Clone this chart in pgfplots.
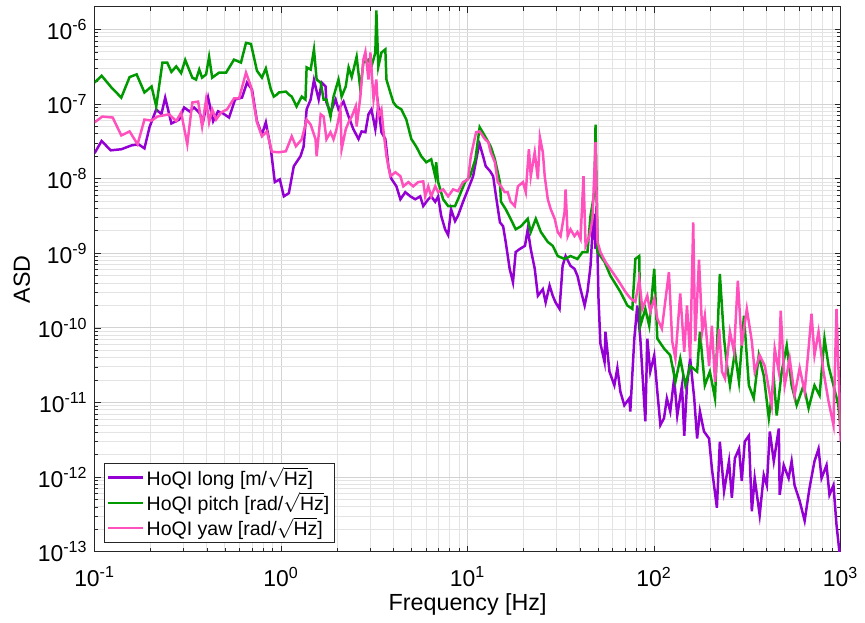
\documentclass[border=0pt]{standalone}
\usepackage{pgfplots}
\pgfplotsset{compat=1.18}
\usepackage{amsmath}
\usepackage{fontspec}
\setmainfont{Liberation Sans}
\definecolor{cLong}{RGB}{148,0,211}
\definecolor{cPitch}{RGB}{0,153,0}
\definecolor{cYaw}{RGB}{255,80,190}
\definecolor{axgray}{RGB}{38,38,38}
\begin{document}
\begin{tikzpicture}
\begin{axis}[
  xmode=log, ymode=log,
  scale only axis, width=374.5pt, height=273.5pt,
  xmin=0.1, xmax=1000, ymin=1e-13, ymax=2e-6,
  xticklabel={10\textsuperscript{\pgfmathparse{int(round(\tick/2.302585093))}\pgfmathresult}},
  yticklabel={10\textsuperscript{\pgfmathparse{int(round(\tick/2.302585093))}\pgfmathresult}},
  ticklabel style={font=\fontsize{11.5}{12}\selectfont},
  xticklabel style={yshift=-4pt},
  label style={font=\fontsize{11.7}{13}\selectfont},
  xlabel={Frequency [Hz]}, ylabel={ASD},
  xlabel style={at={(axis description cs:0.5,0)}, anchor=center, yshift=-26.5pt},
  ylabel style={at={(axis description cs:-0.0975,0.5)}, anchor=center},
  grid=both,
  major grid style={gray!35, line width=0.5pt},
  minor grid style={gray!22, line width=0.5pt},
  tick align=inside, major tick length=3pt, minor tick length=1.8pt,
  every tick/.style={axgray, line width=0.4pt},
  axis line style={axgray, line width=0.5pt},
  legend cell align=left,
  legend style={at={(axis description cs:0,0)}, anchor=south west, xshift=4.5pt, yshift=4.5pt,
    draw=axgray, line width=0.5pt, fill=white, font=\fontsize{9.8}{10}\selectfont, inner sep=1.5pt,
    row sep=1.6pt, nodes={inner ysep=0.2pt, inner xsep=1.2pt}},
  legend image code/.code={\draw[#1, line width=1.2pt] (0pt,0pt) -- (17.5pt,0pt);},
]
\addplot[cLong, line width=1.25pt, no markers] coordinates {
(0.1,2.2e-8) (0.109,3.2e-8) (0.122,2.4e-8) (0.139,2.48e-8) (0.158,2.8e-8) (0.172,2.89e-8) (0.185,2.55e-8) (0.197,4.9e-8) (0.214,8.5e-8) (0.228,7.3e-8) (0.239,1.22e-7) (0.258,5.5e-8) (0.284,6.2e-8) (0.302,9.0e-8) (0.322,8.0e-8) (0.342,9.0e-8) (0.364,7.7e-8) (0.382,5.9e-8) (0.406,1.22e-7) (0.432,5.9e-8) (0.459,8.0e-8) (0.488,7.5e-8) (0.526,6.6e-8) (0.566,1.15e-7) (0.617,1.22e-7) (0.656,1.94e-7) (0.698,1.57e-7) (0.742,5.9e-8) (0.789,3.9e-8) (0.828,5.7e-8) (0.881,2.48e-8) (0.925,9.0e-9) (0.984,9.8e-9) (1.034,5.8e-9) (1.10,6.4e-9) (1.169,1.47e-8) (1.27,2.0e-8) (1.32,2.7e-8) (1.37,8.5e-8) (1.44,1.15e-7) (1.50,2.1e-7) (1.59,1.15e-7) (1.65,1.94e-7) (1.73,1.72e-7) (1.75,1.05e-7) (1.84,7.7e-8) (1.96,1.15e-7) (2.03,8.5e-8) (2.16,1.08e-7) (2.30,6.8e-8) (2.44,4.6e-8) (2.60,3.4e-8) (2.70,4.3e-8) (2.83,4.2e-8) (2.94,7.3e-8) (3.05,8.5e-8) (3.20,4.6e-8) (3.32,9.3e-8) (3.45,4.2e-8) (3.62,3.4e-8) (3.76,1.47e-8) (3.90,1.0e-8) (4.15,7.9e-9) (4.36,5.3e-9) (4.63,6.6e-9) (4.93,5.8e-9) (5.24,5.3e-9) (5.57,5.8e-9) (5.78,4.3e-9) (6.15,5.3e-9) (6.38,5.8e-9) (6.70,4.9e-9) (6.95,5.8e-9) (7.21,3.2e-9) (7.57,2.1e-9) (7.86,1.76e-9) (8.15,3.9e-9) (8.56,2.7e-9) (8.88,3.2e-9) (9.45,4.9e-9) (10.05,7.2e-9) (10.7,1.08e-8) (11.4,2.5e-8) (11.6,2.89e-8) (12.1,2.0e-8) (12.5,1.47e-8) (13.2,1.26e-8) (13.7,1.08e-8) (14.2,5.8e-9) (14.9,2.6e-9) (15.5,2.3e-9) (16.0,1.42e-9) (16.8,6.2e-10) (17.5,4.1e-10) (18.1,1.04e-9) (19.0,1.14e-9) (20.3,1.26e-9) (21.0,2.1e-9) (21.8,1.14e-9) (22.9,6.2e-10) (23.8,2.7e-10) (25.3,3.3e-10) (26.2,2.2e-10) (27.5,3.7e-10) (28.6,2.7e-10) (29.6,2.2e-10) (31.1,1.8e-10) (32.3,6.8e-10) (33.5,9.2e-10) (35.6,6.8e-10) (37.4,6.2e-10) (38.8,5.0e-10) (40.3,3.3e-10) (42.4,2.0e-10) (43.9,3.05e-10) (45.6,6.8e-10) (47.3,3.4e-9) (48.5,1.14e-9) (49.1,4.3e-9) (50.3,2.5e-10) (51.5,6.2e-11) (54.2,3.5e-11) (54.8,8.9e-11) (57.6,2.6e-11) (61.2,1.7e-11) (63.5,2.9e-11) (65.9,1.4e-11) (69.2,9.2e-12) (73.6,1.14e-11) (74.5,7.6e-12) (78.3,7.2e-11) (81.2,2.0e-10) (84.3,7.2e-11) (89.7,5.6e-12) (91.9,7.2e-11) (95.3,2.6e-11) (100.1,4.3e-11) (104,1.4e-11) (108,5.0e-12) (113,6.2e-12) (117,1.14e-11) (122,7.6e-12) (128,2.1e-11) (133,6.7e-12) (141,1.7e-11) (145,3.6e-12) (150,1.7e-11) (156,3.9e-11) (164,1.14e-11) (170,3.3e-12) (176,7.6e-12) (185,4.1e-12) (197,3.3e-12) (204,1.3e-12) (217,3.9e-13) (225,3.0e-12) (237,6.5e-13) (252,1.64e-12) (261,5.3e-13) (271,1.8e-12) (285,2.4e-12) (295,8.9e-13) (306,3.0e-12) (322,3.6e-12) (334,3.5e-13) (346,9.7e-13) (368,3.1e-13) (387,1.07e-12) (402,7.8e-13) (417,4.1e-12) (438,1.64e-12) (466,4.5e-12) (471,5.8e-13) (495,1.45e-12) (526,9.7e-13) (546,1.64e-12) (566,7.8e-13) (603,4.8e-13) (641,2.6e-13) (681,7.2e-13) (724,1.64e-12) (761,2.4e-12) (790,9.7e-13) (840,1.45e-12) (871,5.8e-13) (915,7.8e-13) (950,2.3e-13) (985,1.0e-13) (1000,1.1e-13)
};
\addlegendentry{HoQI long [m/$\sqrt{\text{Hz}}$]}
\addplot[cPitch, line width=1.25pt, no markers] coordinates {
(0.1,1.94e-7) (0.109,2.4e-7) (0.123,1.67e-7) (0.139,1.22e-7) (0.154,2.3e-7) (0.168,2.5e-7) (0.185,1.43e-7) (0.202,1.72e-7) (0.214,9.3e-8) (0.231,3.6e-7) (0.245,3.6e-7) (0.258,2.7e-7) (0.274,3.2e-7) (0.291,2.6e-7) (0.306,3.9e-7) (0.334,2.26e-7) (0.350,2.13e-7) (0.364,2.9e-7) (0.377,2.26e-7) (0.396,2.5e-7) (0.411,4.3e-7) (0.427,2.26e-7) (0.465,2.64e-7) (0.507,2.64e-7) (0.559,3.94e-7) (0.609,3.6e-7) (0.648,6.6e-7) (0.689,6.4e-7) (0.742,2.8e-7) (0.789,2.26e-7) (0.828,3.0e-7) (0.881,1.57e-7) (0.914,1.26e-7) (0.949,1.34e-7) (0.972,1.43e-7) (1.06,1.47e-7) (1.10,1.34e-7) (1.14,1.26e-7) (1.21,9.3e-8) (1.29,1.26e-7) (1.35,1.15e-7) (1.37,3.1e-7) (1.44,2.9e-7) (1.50,5.4e-7) (1.55,2.13e-7) (1.63,1.94e-7) (1.69,1.15e-7) (1.75,1.15e-7) (1.84,6.8e-8) (1.91,1.26e-7) (2.03,2.13e-7) (2.11,1.26e-7) (2.22,1.72e-7) (2.30,3.1e-7) (2.39,2.3e-7) (2.54,4.3e-7) (2.66,1.57e-7) (2.76,3.6e-7) (2.94,3.94e-7) (3.05,3.18e-7) (3.20,4.9e-7) (3.24,1.8e-6) (3.32,3.18e-7) (3.45,4.9e-7) (3.62,5.4e-7) (3.67,2.13e-7) (3.85,1.43e-7) (4.00,1.05e-7) (4.15,9.3e-8) (4.41,8.5e-8) (4.69,6.2e-8) (4.99,3.4e-8) (5.30,2.7e-8) (5.64,2.0e-8) (6.00,1.66e-8) (6.38,1.82e-8) (6.70,1.08e-8) (6.78,1.66e-8) (6.95,9.0e-9) (7.39,5.3e-9) (7.86,4.3e-9) (8.56,4.3e-9) (8.88,5.3e-9) (9.68,9.0e-9) (10.3,1.08e-8) (11.0,1.82e-8) (11.6,4.9e-8) (12.4,3.7e-8) (13.3,2.7e-8) (14.0,1.82e-8) (14.9,9.0e-9) (15.1,4.9e-9) (16.0,3.9e-9) (17.0,2.9e-9) (18.1,2.1e-9) (19.3,2.3e-9) (21.0,2.9e-9) (21.8,1.93e-9) (23.2,2.9e-9) (24.7,1.93e-9) (26.9,1.42e-9) (28.6,1.26e-9) (30.4,9.2e-10) (33.1,8.4e-10) (35.6,9.2e-10) (38.8,8.4e-10) (41.3,1.04e-9) (43.9,1.04e-9) (45.6,3.2e-9) (47.9,6.6e-9) (48.5,5.3e-8) (49.7,1.04e-9) (54.2,7.7e-10) (58.3,5.0e-10) (65.9,3.05e-10) (71.8,2.0e-10) (76.4,1.8e-10) (79.3,8.4e-10) (83.2,9.2e-10) (84.3,1.07e-10) (89.7,1.8e-10) (94.1,1.07e-10) (100.1,6.2e-10) (104,7.2e-11) (113,5.3e-11) (122,4.3e-11) (130,1.9e-11) (138,3.9e-11) (147,1.7e-11) (156,3.1e-11) (170,2.6e-11) (176,8.9e-11) (187,1.7e-11) (199,2.6e-11) (212,1.14e-11) (225,5.3e-10) (237,7.2e-11) (246,3.1e-11) (255,1.7e-11) (271,4.8e-11) (285,1.9e-11) (303,1.46e-10) (322,1.7e-11) (342,1.14e-11) (364,4.3e-11) (387,2.3e-11) (412,6.2e-12) (438,2.1e-11) (454,6.7e-12) (483,2.6e-11) (514,5.8e-11) (546,1.7e-11) (581,9.2e-12) (633,1.7e-11) (673,8.4e-12) (724,1.7e-11) (771,1.25e-11) (819,7.2e-11) (861,3.1e-11) (915,1.7e-11) (973,9.2e-12) (1000,4.1e-12)
};
\addlegendentry{HoQI pitch [rad/$\sqrt{\text{Hz}}$]}
\addplot[cYaw, line width=1.25pt, no markers] coordinates {
(0.1,5.7e-8) (0.110,6.8e-8) (0.125,6.6e-8) (0.139,3.8e-8) (0.154,4.3e-8) (0.170,2.89e-8) (0.185,6.2e-8) (0.202,6.0e-8) (0.217,6.8e-8) (0.251,7.3e-8) (0.274,5.9e-8) (0.291,7.7e-8) (0.314,2.89e-8) (0.334,1.05e-7) (0.359,1.08e-7) (0.377,5.0e-8) (0.396,1.15e-7) (0.411,5.7e-8) (0.427,8.5e-8) (0.448,6.2e-8) (0.476,7.7e-8) (0.513,8.5e-8) (0.559,1.19e-7) (0.595,1.19e-7) (0.648,2.64e-7) (0.689,1.72e-7) (0.742,5.7e-8) (0.789,3.7e-8) (0.839,4.3e-8) (0.892,2.3e-8) (0.972,2.26e-8) (1.06,2.33e-8) (1.14,3.7e-8) (1.20,2.72e-8) (1.29,3.37e-8) (1.37,6.2e-8) (1.44,5.3e-8) (1.53,3.37e-8) (1.55,2.0e-8) (1.63,7.3e-8) (1.69,6.8e-8) (1.75,3.37e-8) (1.84,4.2e-8) (1.91,3.37e-8) (1.98,4.58e-8) (2.08,8.5e-8) (2.11,2.48e-8) (2.22,4.58e-8) (2.30,5.7e-8) (2.39,6.8e-8) (2.51,9.3e-8) (2.54,5.0e-8) (2.66,1.26e-7) (2.76,3.94e-7) (2.83,5.0e-7) (2.94,2.13e-7) (3.01,4.9e-7) (3.13,1.15e-7) (3.24,2.13e-7) (3.32,6.8e-8) (3.45,8.5e-8) (3.53,4.58e-8) (3.67,2.0e-8) (3.85,1.08e-8) (4.10,1.22e-8) (4.36,1.08e-8) (4.52,7.9e-9) (4.81,9.0e-9) (5.11,7.9e-9) (5.43,9.0e-9) (5.78,9.2e-9) (5.92,5.8e-9) (6.15,7.9e-9) (6.38,5.8e-9) (6.70,7.9e-9) (6.95,6.6e-9) (7.39,7.2e-9) (7.86,5.8e-9) (8.36,7.2e-9) (8.88,6.8e-9) (9.45,9.0e-9) (10.05,9.8e-9) (10.4,2.0e-8) (11.1,4.2e-8) (11.6,4.3e-8) (12.4,3.37e-8) (12.9,3.1e-8) (13.3,2.26e-8) (14.0,1.66e-8) (14.5,9.0e-9) (15.1,7.9e-9) (15.8,6.6e-9) (16.4,6.6e-9) (17.0,4.9e-9) (17.9,4.3e-9) (18.6,7.9e-9) (19.8,9.0e-9) (20.5,6.6e-9) (21.3,2.48e-8) (21.8,1.08e-8) (22.9,2.26e-8) (23.8,9.8e-9) (24.4,3.6e-8) (25.3,2.26e-8) (25.9,1.08e-8) (26.9,5.3e-9) (27.9,3.9e-9) (29.3,2.9e-9) (30.4,1.93e-9) (31.5,1.7e-9) (33.1,3.6e-9) (33.5,7.2e-9) (34.4,1.7e-9) (35.6,2.1e-9) (37.4,1.7e-9) (38.8,1.93e-9) (40.3,1.56e-9) (41.8,1.08e-8) (42.9,1.26e-9) (45.0,1.7e-9) (46.7,2.9e-9) (48.5,3.1e-8) (49.7,1.42e-9) (51.5,1.04e-9) (54.8,7.7e-10) (59.8,5.6e-10) (65.1,4.1e-10) (70.1,3.05e-10) (74.5,2.5e-10) (79.3,2.24e-10) (83.2,4.5e-10) (86.4,1.8e-10) (91.9,2.7e-10) (95.3,1.65e-10) (100.1,2.46e-10) (104,1.33e-10) (110,9.8e-11) (120,5.6e-10) (125,6.6e-11) (130,3.9e-11) (138,2.9e-10) (145,4.8e-11) (150,2.0e-10) (156,3.9e-11) (162,2.6e-9) (166,6.6e-11) (174,8.2e-10) (181,8.9e-11) (187,1.46e-10) (197,3.1e-11) (204,1.07e-10) (212,1.9e-11) (223,9.8e-11) (231,2.6e-11) (240,2.1e-11) (255,8.9e-11) (268,4.8e-11) (281,4.3e-10) (295,5.8e-11) (314,1.8e-10) (334,6.6e-11) (346,2.6e-11) (368,4.3e-11) (392,3.1e-11) (427,9.2e-12) (443,5.3e-11) (466,2.6e-11) (477,1.7e-10) (501,1.7e-11) (533,3.9e-11) (566,1.25e-11) (603,2.9e-11) (641,1.4e-11) (673,5.3e-11) (698,1.55e-10) (724,4.3e-11) (761,8.9e-11) (809,2.6e-11) (861,1.04e-11) (915,5.0e-12) (950,1.8e-10) (985,1.14e-11) (1000,3.0e-12)
};
\addlegendentry{HoQI yaw [rad/$\sqrt{\text{Hz}}$]}
\end{axis}
\path ([shift={(-47.5pt,-35pt)}]current axis.south west) rectangle ([shift={(10.5pt,3.5pt)}]current axis.north east);
\end{tikzpicture}
\end{document}
